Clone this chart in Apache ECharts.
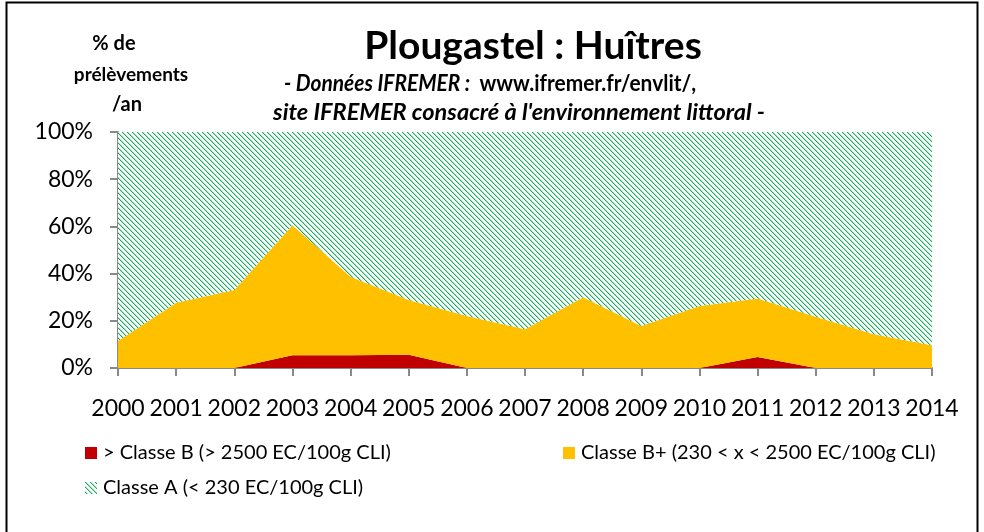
<!DOCTYPE html>
<html>
<head>
<meta charset="utf-8">
<script src="https://cdn.jsdelivr.net/npm/echarts@6/dist/echarts.min.js"></script>
<style>
  html, body { margin: 0; padding: 0; background: #fff; }
  #chart { width: 984px; height: 532px; }
</style>
</head>
<body>
<div id="chart"></div>
<script>
const years = ['2000', '2001', '2002', '2003', '2004', '2005', '2006', '2007', '2008', '2009', '2010', '2011', '2012', '2013', '2014']
// % de prélèvements par an
const classeB = [0, 0, 0, 5.4, 5.4, 5.6, 0, 0, 0, 0, 0, 4.7, 0, 0, 0]
const classeBplus = [11.4, 27.7, 33, 55.1, 33.3, 23.2, 22, 16.4, 30, 17.8, 26.3, 24.8, 21.7, 14.3, 9.6]
const classeA = [88.6, 72.3, 67, 39.5, 61.3, 71.2, 78, 83.6, 70, 82.2, 73.7, 70.5, 78.3, 85.7, 90.4]
const yTicks = [0, 20, 40, 60, 80, 100]

const names = [
  '> Classe B (> 2500 EC/100g CLI)',
  'Classe B+ (230 < x < 2500 EC/100g CLI)',
  'Classe A (< 230 EC/100g CLI)'
]

const font = 'Lato, "Noto Sans", sans-serif'

// motif hachuré vert (diagonale descendante)
const tile = document.createElement('canvas')
tile.width = 5
tile.height = 5
const tctx = tile.getContext('2d')
tctx.fillStyle = '#ffffff'
tctx.fillRect(0, 0, 5, 5)
for (let i = 0; i < 5; i++) {
  tctx.fillStyle = '#0cb158'
  tctx.fillRect(i, i, 1, 1)
  tctx.fillStyle = '#a9e4c3'
  tctx.fillRect((i + 1) % 5, i, 1, 1)
}
const hatch = { image: tile, repeat: 'repeat' }

const chart = echarts.init(document.getElementById('chart'), null, { renderer: 'canvas' })

const makeSeries = (name, data, color) => ({
  name: name,
  type: 'line',
  stack: 'total',
  data: data,
  symbol: 'none',
  lineStyle: { width: 0, color: color },
  itemStyle: { color: color },
  areaStyle: { color: color, opacity: 1 },
  silent: true
})

const legendBox = (name, color, left, top) => ({
  left: left,
  top: top,
  padding: 0,
  icon: 'rect',
  itemWidth: 12,
  itemHeight: 12,
  itemGap: 0,
  selectedMode: false,
  textStyle: { fontFamily: font, fontSize: 20, color: '#000', lineHeight: 20, padding: [0, 0, 0, 1] },
  itemStyle: { borderWidth: 0 },
  data: [{ name: name, itemStyle: { color: color } }]
})

const option = {
  animation: false,
  backgroundColor: '#fff',
  grid: { left: 118, right: 52, top: 132, bottom: 164 },
  xAxis: {
    type: 'category',
    data: years,
    boundaryGap: false,
    axisLine: { lineStyle: { color: '#898989', width: 2 } },
    axisTick: { length: 8, interval: 0, lineStyle: { color: '#898989', width: 2 } },
    axisLabel: { color: '#000', fontFamily: font, fontSize: 23, margin: 29, interval: 0 },
    splitLine: { show: false }
  },
  yAxis: {
    type: 'value',
    min: yTicks[0],
    max: yTicks[yTicks.length - 1],
    interval: 20,
    axisLine: { show: true, lineStyle: { color: '#898989', width: 2 } },
    axisTick: { show: true, length: 8, lineStyle: { color: '#898989', width: 2 } },
    axisLabel: { color: '#000', fontFamily: font, fontSize: 23, margin: 25, formatter: '{value}%' },
    splitLine: { show: false }
  },
  legend: [
    legendBox(names[0], '#c00000', 85, 443),
    legendBox(names[1], '#ffc000', 563, 443),
    legendBox(names[2], hatch, 85, 478)
  ],
  graphic: [
    {
      type: 'rect',
      shape: { x: 6.5, y: 2.5, width: 971, height: 560 },
      style: { fill: null, stroke: '#000', lineWidth: 2 },
      silent: true
    },
    {
      type: 'text',
      x: 533, y: 46,
      style: { text: 'Plougastel : Huîtres', fill: '#000', font: 'bold 39px ' + font, textAlign: 'center', textVerticalAlign: 'middle' }
    },
    {
      type: 'text',
      x: 490, y: 84,
      scaleX: 0.95,
      style: {
        text: '{i|- Données IFREMER :  }{n|www.ifremer.fr/envlit/,}',
        fill: '#000',
        textAlign: 'center',
        textVerticalAlign: 'middle',
        rich: {
          i: { font: 'italic bold 22px ' + font, fill: '#000' },
          n: { font: 'bold 22px ' + font, fill: '#000' }
        }
      }
    },
    {
      type: 'text',
      x: 519, y: 113,
      scaleX: 1.07,
      style: { text: "site IFREMER consacré à l'environnement littoral -", fill: '#000', font: 'italic bold 22px ' + font, textAlign: 'center', textVerticalAlign: 'middle' }
    },
    {
      type: 'text',
      x: 114, y: 44,
      style: { text: '% de', fill: '#000', font: 'bold 20px ' + font, textAlign: 'center', textVerticalAlign: 'middle' }
    },
    {
      type: 'text',
      x: 131, y: 75,
      style: { text: 'prélèvements', fill: '#000', font: 'bold 19px ' + font, textAlign: 'center', textVerticalAlign: 'middle' }
    },
    {
      type: 'text',
      x: 127, y: 105,
      style: { text: '/an', fill: '#000', font: 'bold 20px ' + font, textAlign: 'center', textVerticalAlign: 'middle' }
    }
  ],
  series: [
    makeSeries(names[0], classeB, '#c00000'),
    makeSeries(names[1], classeBplus, '#ffc000'),
    makeSeries(names[2], classeA, hatch)
  ]
}

chart.setOption(option)
window.addEventListener('resize', () => chart.resize())
</script>
</body>
</html>
